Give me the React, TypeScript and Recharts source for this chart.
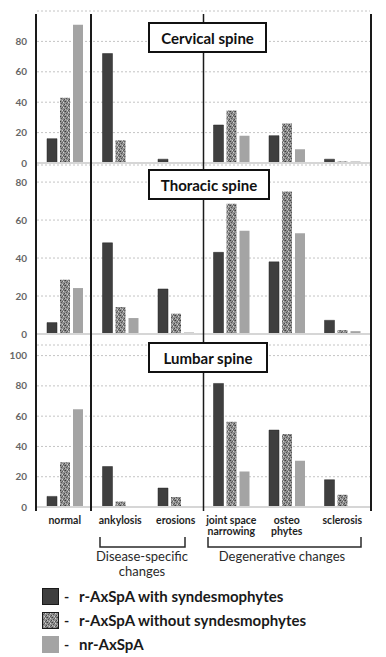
import { BarChart, Bar, XAxis, YAxis, CartesianGrid } from 'recharts'

const categories = ['normal', 'ankylosis', 'erosions', 'joint space\nnarrowing', 'osteo\nphytes', 'sclerosis']
const seriesNames = ['r-AxSpA with syndesmophytes', 'r-AxSpA without syndesmophytes', 'nr-AxSpA']

// values in %
const cervicalWith = [16, 72, 2.5, 25, 18, 2.5]
const cervicalWithout = [43, 15, 0, 34.5, 26, 1]
const cervicalNr = [91, 0, 0, 18, 9, 1]

const thoracicWith = [6, 48, 23.7, 43, 38, 7.2]
const thoracicWithout = [28.6, 14.2, 10.7, 68.6, 75, 2]
const thoracicNr = [24.2, 8.4, 0.8, 54.4, 53, 1.5]

const lumbarWith = [7, 26.7, 12.5, 81.6, 50.8, 18]
const lumbarWithout = [29.6, 3.7, 6.6, 56.3, 48.2, 8.1]
const lumbarNr = [64.5, 0, 0, 23.4, 30.5, 0]

const ticksTo80 = [0, 20, 40, 60, 80]
const ticksTo100 = [0, 20, 40, 60, 80, 100]

const FONT = 'Lato, "Open Sans", sans-serif'
const DARK = '#3f3f3f'
const GRAY = '#a4a4a4'
const W = 386
const PLOT_LEFT = 37
const PLOT_RIGHT = 370
const catWidth = (PLOT_RIGHT - PLOT_LEFT) / categories.length

const buildRows = (a: number[], b: number[], c: number[]) =>
  categories.map((name, i) => ({ name, withS: a[i], withoutS: b[i], nr: c[i] }))

// speckled texture for the "without syndesmophytes" series
const Speckle = ({ id }: { id: string }) => (
  <defs>
    <pattern id={id} width="5" height="5" patternUnits="userSpaceOnUse">
      <rect width="5" height="5" fill="#8f8f8f" />
      <rect x="0" y="0" width="1" height="1" fill="#3e3e3e" />
      <rect x="3" y="1" width="1" height="1" fill="#d2d2d2" />
      <rect x="1" y="2" width="1" height="1" fill="#555" />
      <rect x="4" y="3" width="1" height="1" fill="#4a4a4a" />
      <rect x="2" y="4" width="1" height="1" fill="#cfcfcf" />
      <rect x="0" y="3" width="1" height="1" fill="#b8b8b8" />
      <rect x="4" y="0" width="1" height="1" fill="#666" />
      <rect x="2" y="1" width="1" height="1" fill="#606060" />
      <rect x="3" y="4" width="1" height="1" fill="#5a5a5a" />
    </pattern>
  </defs>
)

const CategoryTick = ({ x, y, payload }: any) => {
  const lines = String(payload.value).split('\n')
  return (
    <text x={x} y={y + 17} textAnchor="middle" fontSize={10.5} fontWeight={700} fill="#1e1e1e" fontFamily={FONT}>
      {lines.map((l, i) => (
        <tspan key={i} x={x} dy={i === 0 ? 0 : 10.5}>
          {l}
        </tspan>
      ))}
    </text>
  )
}

interface PanelProps {
  id: string
  top: number
  height: number
  domainMax: number
  ticks: number[]
  data: any[]
  axisHeight: number
  showLabels?: boolean
}

function Panel({ id, top, height, domainMax, ticks, data, axisHeight, showLabels }: PanelProps) {
  return (
    <div style={{ position: 'absolute', left: 0, top }}>
      <BarChart
        width={W}
        height={height}
        data={data}
        margin={{ top: 5, right: W - PLOT_RIGHT, left: 7, bottom: 0 }}
        barSize={10}
        barGap={3}
      >
        <Speckle id={`speckle-${id}`} />
        <CartesianGrid vertical={false} stroke="#c4c4c4" strokeDasharray="2 2" />
        <XAxis
          dataKey="name"
          height={axisHeight}
          axisLine={{ stroke: '#d6d6d6', strokeWidth: 2 }}
          tickLine={false}
          tickSize={0}
          tickMargin={0}
          interval={0}
          tick={showLabels ? <CategoryTick /> : false}
        />
        <YAxis
          width={30}
          domain={[0, domainMax]}
          ticks={ticks}
          interval={0}
          axisLine={false}
          tickLine={false}
          tickSize={0}
          tickMargin={10}
          allowDataOverflow
          tick={{ fontSize: 10, fontWeight: 700, fill: '#666', fontFamily: FONT }}
        />
        <Bar dataKey="withS" fill={DARK} stroke="#262626" strokeWidth={0.5} isAnimationActive={false} />
        <Bar dataKey="withoutS" fill={`url(#speckle-${id})`} isAnimationActive={false} />
        <Bar dataKey="nr" fill={GRAY} isAnimationActive={false} />
      </BarChart>
    </div>
  )
}

const TitleBox = ({ text, top, left, width }: { text: string; top: number; left: number; width: number }) => (
  <div
    style={{
      position: 'absolute',
      left,
      top,
      width,
      height: 31,
      boxSizing: 'border-box',
      border: '2px solid #111',
      background: '#fff',
      display: 'flex',
      alignItems: 'center',
      justifyContent: 'center',
      fontFamily: FONT,
      fontWeight: 700,
      fontSize: 15,
      color: '#111',
    }}
  >
    {text}
  </div>
)

export default function App() {
  const separators = [PLOT_LEFT - 1, PLOT_LEFT + catWidth - 1.5, PLOT_LEFT + catWidth * 3, PLOT_RIGHT + 1]
  const legendFills = [DARK, 'url(#speckle-legend)', GRAY]

  return (
    <div style={{ position: 'absolute', left: 0, top: 0, width: W, height: 657, background: '#fff', fontFamily: FONT }}>
      {/* cervical: plot 11..163 */}
      <Panel id="c" top={6} height={166} domainMax={100} ticks={ticksTo80} data={buildRows(cervicalWith, cervicalWithout, cervicalNr)} axisHeight={9} />
      {/* thoracic: plot 165..334 */}
      <Panel id="t" top={160} height={183} domainMax={89} ticks={ticksTo80} data={buildRows(thoracicWith, thoracicWithout, thoracicNr)} axisHeight={9} />
      {/* lumbar: plot 345..507 */}
      <Panel id="l" top={340} height={197} domainMax={107} ticks={ticksTo100} data={buildRows(lumbarWith, lumbarWithout, lumbarNr)} axisHeight={30} showLabels />

      <svg width={W} height={657} style={{ position: 'absolute', left: 0, top: 0, pointerEvents: 'none' }}>
        {separators.map((x, i) => (
          <line key={i} x1={x} x2={x} y1={14} y2={511} stroke="#1a1a1a" strokeWidth={i === 2 ? 1.5 : 2} />
        ))}
        <g stroke="#2a2a2a" strokeWidth={1.5} fill="none">
          <polyline points="100,537 100,547 185,547 185,537" />
          <polyline points="208,537 208,547 361,547 361,537" />
        </g>
        <g fontFamily={FONT} fontSize={13} fill="#2a2a2a" textAnchor="middle">
          <text x={142} y={561}>Disease-specific</text>
          <text x={142} y={576}>changes</text>
          <text x={282} y={561}>Degenerative changes</text>
        </g>
      </svg>

      <TitleBox text="Cervical spine" top={22} left={148} width={119} />
      <TitleBox text="Thoracic spine" top={169} left={148} width={122} />
      <TitleBox text="Lumbar spine" top={342} left={148} width={120} />

      <svg width={20} height={0} style={{ position: 'absolute' }}>
        <Speckle id="speckle-legend" />
      </svg>
      <div style={{ position: 'absolute', left: 42, top: 584 }}>
        {seriesNames.map((name, i) => (
          <div key={name} style={{ display: 'flex', alignItems: 'center', height: 24 }}>
            <svg width={17} height={17}>
              <rect x={0.5} y={0.5} width={16} height={16} fill={legendFills[i]} stroke={i === 2 ? GRAY : '#1a1a1a'} />
            </svg>
            <span style={{ marginLeft: 5, width: 15, fontWeight: 700, fontSize: 14, color: '#1a1a1a' }}>-</span>
            <span style={{ fontWeight: 700, fontSize: 15, color: '#1a1a1a' }}>{name}</span>
          </div>
        ))}
      </div>
    </div>
  )
}
